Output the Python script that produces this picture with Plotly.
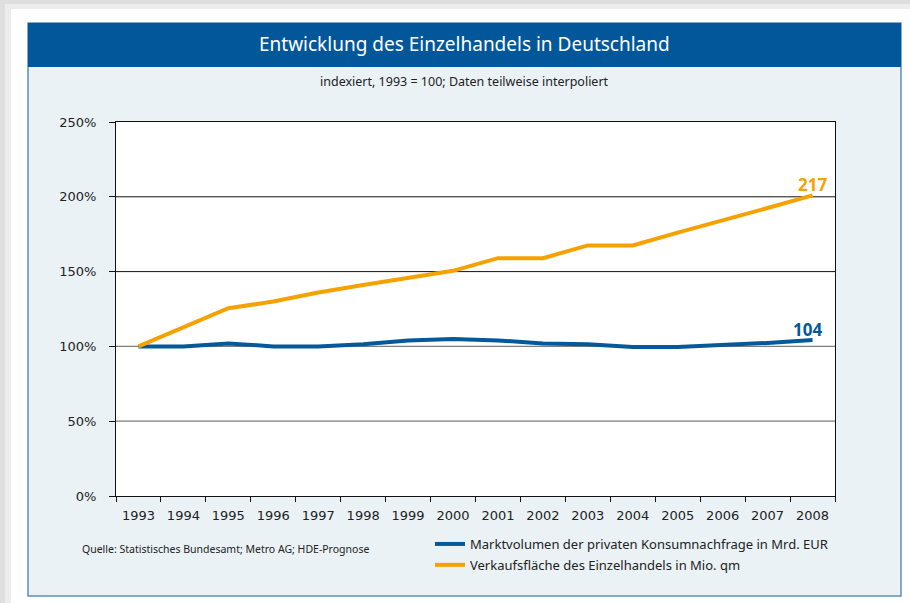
import plotly.graph_objects as go

YEARS = [str(y) for y in range(1993, 2009)]
MARKT = [100, 100, 102, 100, 100, 101.5, 104, 105, 104, 102, 101.5, 99.6, 99.6, 100.7, 102.3, 104.3]
FLAECHE = [100, 112.5, 125.5, 130, 136, 141, 145.5, 150.5, 159, 159, 167.5, 167.5, 176, 184, 192.5, 201]
Y_TICKS = [0, 50, 100, 150, 200, 250]
GRID_DARK = [150, 200]
GRID_LIGHT = [50, 100]
END_LABELS = {'markt': '104', 'flaeche': '217'}

NAME_MARKT = 'Marktvolumen der privaten Konsumnachfrage in Mrd. EUR'
NAME_FLAECHE = 'Verkaufsfläche des Einzelhandels in Mio. qm'
TITLE = 'Entwicklung des Einzelhandels in Deutschland'
SUBTITLE = 'indexiert, 1993 = 100; Daten teilweise interpoliert'
SOURCE = 'Quelle: Statistisches Bundesamt; Metro AG; HDE-Prognose'

BLUE = '#04599b'
ORANGE = '#f5a200'
HEADER = '#02579a'
PANEL = '#eaf2f6'
BORDER = '#5b8fc0'

W, H = 910, 603
PX_L, PX_R, PX_T, PX_B = 116, 835, 122, 496


def px_x(px):
    return (px - PX_L) / (PX_R - PX_L)


def px_y(py):
    return (PX_B - py) / (PX_B - PX_T)


def rect(x0, y0, x1, y1, fill, line_color=None, line_width=0):
    return dict(type='rect', xref='paper', yref='paper', layer='below',
                x0=px_x(x0), x1=px_x(x1), y0=px_y(y0), y1=px_y(y1),
                fillcolor=fill,
                line=dict(color=line_color or fill, width=line_width))


fig = go.Figure()
fig.add_trace(go.Scatter(x=YEARS, y=MARKT, mode='lines', name=NAME_MARKT,
                         line=dict(color=BLUE, width=4), legendgroup='a'))
fig.add_trace(go.Scatter(x=YEARS, y=FLAECHE, mode='lines', name=NAME_FLAECHE,
                         line=dict(color=ORANGE, width=4), legendgroup='b'))

shapes = [
    # page shadow + card
    rect(0, 0, W, H, '#dedede'),
    rect(5, 4, W, H, '#ececec'),
    rect(11, 9, W, H, '#ffffff'),
    # panel + header
    rect(28, 23, 901, 596, PANEL, BORDER, 1.5),
    rect(28, 23, 901, 67, HEADER),
    # plot area
    rect(PX_L, PX_T, PX_R, PX_B, '#ffffff'),
]
fig.update_layout(shapes=shapes)

for g in GRID_DARK:
    fig.add_hline(y=g, line_color='#111111', line_width=1, layer='below')
for g in GRID_LIGHT:
    fig.add_hline(y=g, line_color='#7d7d7d', line_width=1.2, layer='below')

font_ticks = dict(family='DejaVu Sans', size=13, color='#222222')

fig.update_xaxes(type='category', range=[-0.5, 15.5], tickson='boundaries',
                 ticks='outside', ticklen=5, tickcolor='#111111',
                 showline=True, linecolor='#111111', linewidth=1, mirror=True,
                 showgrid=False, tickfont=font_ticks, fixedrange=True,
                 ticklabelstandoff=7)
fig.update_yaxes(range=[0, 250], tickvals=Y_TICKS,
                 ticktext=[f'{v}%' for v in Y_TICKS],
                 ticks='outside', ticklen=6, tickcolor='#111111',
                 showline=True, linecolor='#111111', linewidth=1, mirror=True,
                 showgrid=False, zeroline=False, tickfont=font_ticks,
                 ticklabelstandoff=10, fixedrange=True)

last = len(YEARS) - 1
annotations = [
    dict(text=TITLE, x=px_x(464.5), y=px_y(44), xref='paper', yref='paper',
         showarrow=False, xanchor='center', yanchor='middle',
         font=dict(family='Noto Sans', size=19, color='#ffffff')),
    dict(text=SUBTITLE, x=px_x(464.5), y=px_y(81), xref='paper', yref='paper',
         showarrow=False, xanchor='center', yanchor='middle',
         font=dict(family='Noto Sans', size=12.5, color='#222222')),
    dict(text=SOURCE, x=px_x(80), y=px_y(549), xref='paper', yref='paper',
         showarrow=False, xanchor='left', yanchor='middle',
         font=dict(family='Noto Sans', size=10.5, color='#222222')),
    dict(text='<b>' + END_LABELS['flaeche'] + '</b>', x=last, y=FLAECHE[-1],
         xref='x', yref='y', showarrow=False, xanchor='center', yanchor='bottom',
         yshift=-3, xshift=0, font=dict(family='Noto Sans', size=17, color=ORANGE)),
    dict(text='<b>' + END_LABELS['markt'] + '</b>', x=last, y=MARKT[-1],
         xref='x', yref='y', showarrow=False, xanchor='center', yanchor='bottom',
         yshift=-3, xshift=-5, font=dict(family='Noto Sans', size=17, color=BLUE)),
]

fig.update_layout(
    width=W, height=H,
    margin=dict(l=PX_L, r=W - PX_R, t=PX_T, b=H - PX_B, pad=0),
    paper_bgcolor='#ffffff', plot_bgcolor='rgba(0,0,0,0)',
    annotations=annotations,
    showlegend=True,
    legend=dict(x=px_x(430), y=px_y(529), xanchor='left', yanchor='top',
                bgcolor='rgba(0,0,0,0)', traceorder='grouped', tracegroupgap=1,
                itemwidth=30, font=dict(family='Noto Sans', size=13, color='#222222')),
    hovermode=False,
)

fig.write_html("out.html", config={'displayModeBar': False},
               post_script="document.body.style.margin='0';")
